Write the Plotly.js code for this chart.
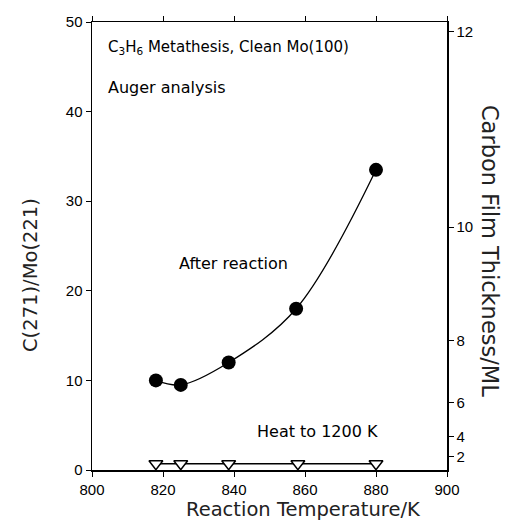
<!DOCTYPE html>
<html>
<head>
<meta charset="utf-8">
<script src="https://cdn.plot.ly/plotly-3.0.1.min.js"></script>
<style>html,body{margin:0;padding:0;background:#fff;}#chart{width:513px;height:531px;}</style>
</head>
<body>
<div id="chart"></div>
<script>
// After reaction: C(271)/Mo(221) ratio vs reaction temperature
var afterTemp = [818, 825, 838.5, 857.5, 880];
var afterRatio = [10.0, 9.5, 12.0, 18.0, 33.5];
// Heat to 1200 K
var heatTemp = [818, 825, 838.5, 858, 880];
var heatRatio = [0.7, 0.7, 0.7, 0.7, 0.7];
// Right axis: carbon film thickness (ML) labels and their C/Mo equivalents
var thickLabels = ['12', '10', '8', '6', '4', '2'];
var thickAtRatio = [48.9, 27.1, 14.4, 7.5, 3.7, 1.5];
var xTicks = [800, 820, 840, 860, 880, 900];
var yTicks = [0, 10, 20, 30, 40, 50];

var tickFont = {family: 'Liberation Sans, Arial, sans-serif', size: 15, color: '#000'};
var titleFont = {family: 'DejaVu Sans, sans-serif', size: 19.5, color: '#222'};
var textFont = {family: 'DejaVu Sans, sans-serif', size: 16, color: '#000'};

var traces = [
  {x: afterTemp, y: afterRatio, mode: 'lines+markers', type: 'scatter',
   line: {color: '#000', width: 1.3, shape: 'spline', smoothing: 1},
   marker: {color: '#000', size: 14, symbol: 'circle'}, showlegend: false},
  {x: heatTemp, y: heatRatio, mode: 'lines+markers', type: 'scatter', yaxis: 'y2',
   line: {color: '#000', width: 1.3},
   marker: {color: '#fff', size: 12, symbol: 'triangle-down', line: {color: '#000', width: 1.5}}, showlegend: false}
];

var layout = {
  width: 513, height: 531,
  margin: {l: 92, r: 66, t: 22, b: 61},
  paper_bgcolor: '#fff', plot_bgcolor: '#fff',
  xaxis: {range: [800, 900], tickvals: xTicks, showgrid: false, zeroline: false,
    showline: true, linecolor: '#000', linewidth: 1.5, mirror: 'ticks',
    ticks: 'outside', ticklen: 5, tickcolor: '#000', tickfont: tickFont},
  yaxis: {range: [0, 50], tickvals: yTicks, showgrid: false, zeroline: false,
    showline: true, linecolor: '#000', linewidth: 1.5,
    ticks: 'outside', ticklen: 5, tickcolor: '#000', tickfont: tickFont},
  yaxis2: {range: [0, 50], overlaying: 'y', side: 'right', tickvals: thickAtRatio, ticktext: thickLabels,
    showgrid: false, zeroline: false, showline: true, linecolor: '#000', linewidth: 1.5,
    ticks: 'outside', ticklen: 5, tickcolor: '#000', tickfont: tickFont},
  annotations: [
    {x: 0.595, y: -0.088, xref: 'paper', yref: 'paper', xanchor: 'center', yanchor: 'middle', showarrow: false,
     text: 'Reaction Temperature/K', font: titleFont},
    {x: -0.175, y: 0.435, xref: 'paper', yref: 'paper', xanchor: 'center', yanchor: 'middle', showarrow: false,
     textangle: -90, text: 'C(271)/Mo(221)', font: titleFont},
    {x: 1.12, y: 0.49, xref: 'paper', yref: 'paper', xanchor: 'center', yanchor: 'middle', showarrow: false,
     textangle: 90, text: 'Carbon Film Thickness/ML', font: {family: 'DejaVu Sans, sans-serif', size: 22.5, color: '#222'}},
    {x: 0.04, y: 0.942, xref: 'paper', yref: 'paper', xanchor: 'left', yanchor: 'middle', showarrow: false,
     text: 'C<sub>3</sub>H<sub>6</sub> Metathesis, Clean Mo(100)', font: {family: 'DejaVu Sans, sans-serif', size: 15, color: '#000'}},
    {x: 0.04, y: 0.853, xref: 'paper', yref: 'paper', xanchor: 'left', yanchor: 'middle', showarrow: false,
     text: 'Auger analysis', font: textFont},
    {x: 0.24, y: 0.462, xref: 'paper', yref: 'paper', xanchor: 'left', yanchor: 'middle', showarrow: false,
     text: 'After reaction', font: textFont},
    {x: 0.46, y: 0.085, xref: 'paper', yref: 'paper', xanchor: 'left', yanchor: 'middle', showarrow: false,
     text: 'Heat to 1200 K', font: textFont}
  ]
};

Plotly.newPlot('chart', traces, layout, {displayModeBar: false, staticPlot: true});
</script>
</body>
</html>
